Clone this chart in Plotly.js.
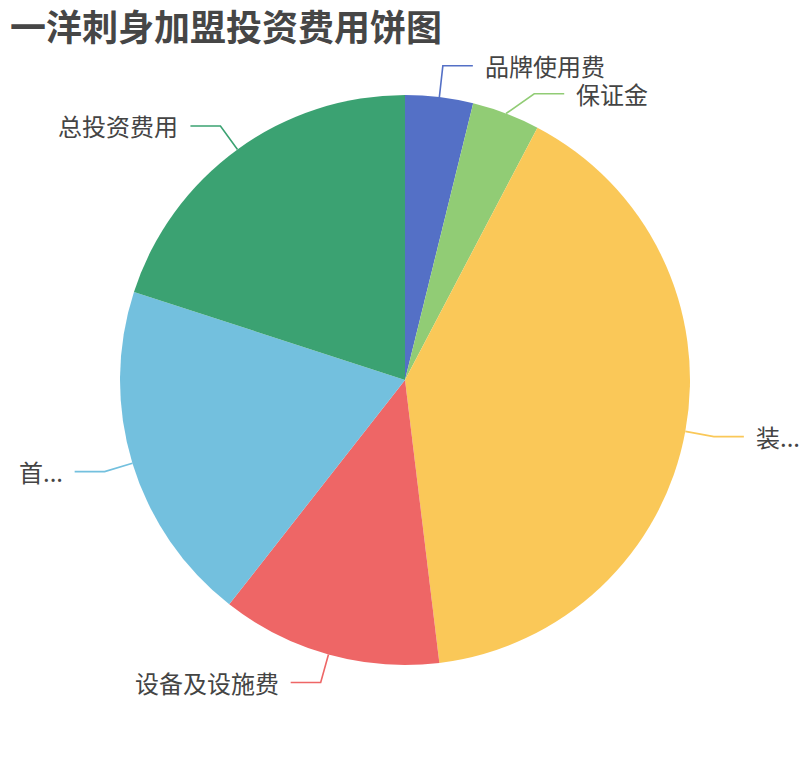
<!DOCTYPE html>
<html>
<head>
<meta charset="utf-8">
<script src="https://cdn.plot.ly/plotly-3.0.1.min.js"></script>
<style>
  html, body { margin: 0; padding: 0; background: #fff; }
  #graph { width: 810px; height: 760px; }
</style>
</head>
<body>
<div id="graph"></div>
<script>
// data
var labels = ['品牌使用费', '保证金', '装修费用', '设备及设施费', '首批进货费', '总投资费用']
var shown = ['品牌使用费', '保证金', '装...', '设备及设施费', '首...', '总投资费用']
var values = [1, 1, 10.5, 3.25, 5.05, 5.2]
var colors = ['#5470c6', '#91cc75', '#fac858', '#ee6666', '#73c0de', '#3ba272']

var W = 810, H = 760
var cx = 405, cy = 380, r = 285
var len1 = 29, len2 = 30, gap = 10, lineH = 28

function px(x) { return x / W }
function py(y) { return 1 - y / H }

var total = values.reduce(function (a, b) { return a + b }, 0)

// leader line geometry from the slice mid angles
var items = []
var cum = 0
for (var i = 0; i < values.length; i++) {
    var mid = (cum + values[i] / 2) / total * 2 * Math.PI
    cum += values[i]
    var s = Math.sin(mid), c = Math.cos(mid)
    items.push({
        i: i, dir: s >= 0 ? 1 : -1,
        x0: cx + r * s, y0: cy - r * c,
        x1: cx + (r + len1) * s, y1: cy - (r + len1) * c
    })
}

// push labels on the same side apart so they do not overlap,
// a moved label slides out along the circle of radius r + len1
;[1, -1].forEach(function (side) {
    var group = items.filter(function (d) { return d.dir === side })
        .sort(function (a, b) { return a.y1 - b.y1 })
    for (var k = 1; k < group.length; k++) {
        var a = group[k - 1], b = group[k]
        var need = lineH - (b.y1 - a.y1)
        if (need > 0) {
            a.y1 -= need * 0.25
            b.y1 += need * 0.75
        }
    }
    group.forEach(function (d) {
        var R = r + len1, dy = d.y1 - cy
        if (Math.abs(dy) < R) {
            var xc = cx + side * Math.sqrt(R * R - dy * dy)
            if ((xc - d.x1) * side > 0) d.x1 = xc
        }
    })
})

var shapes = []
var annotations = []
items.forEach(function (d) {
    var x2 = d.x1 + d.dir * len2
    shapes.push({
        type: 'path', xref: 'paper', yref: 'paper',
        path: 'M' + px(d.x0) + ',' + py(d.y0) + ' L' + px(d.x1) + ',' + py(d.y1) + ' L' + px(x2) + ',' + py(d.y1),
        line: {color: colors[d.i], width: 1.6}
    })
    annotations.push({
        xref: 'paper', yref: 'paper',
        x: px(x2 + d.dir * gap), y: py(d.y1),
        xanchor: d.dir > 0 ? 'left' : 'right', yanchor: 'middle',
        text: shown[d.i], showarrow: false,
        font: {family: 'Noto Sans CJK SC, sans-serif', size: 24, color: '#444'}
    })
})

var trace = {
    type: 'pie',
    labels: labels,
    values: values,
    sort: false,
    direction: 'clockwise',
    rotation: 0,
    textinfo: 'none',
    hoverinfo: 'label+value+percent',
    marker: {colors: colors, line: {width: 0}},
    domain: {x: [px(cx - r), px(cx + r)], y: [py(cy + r), py(cy - r)]}
}

var layout = {
    width: W, height: H,
    margin: {l: 0, r: 0, t: 0, b: 0},
    showlegend: false,
    paper_bgcolor: '#fff',
    title: {
        text: '<b>一洋刺身加盟投资费用饼图</b>',
        x: px(10), xanchor: 'left',
        y: 1 - 28 / H, yanchor: 'middle',
        font: {family: 'Noto Sans CJK SC, sans-serif', size: 36, color: '#464646'}
    },
    shapes: shapes,
    annotations: annotations
}

Plotly.newPlot('graph', [trace], layout, {displayModeBar: false})
</script>
</body>
</html>
